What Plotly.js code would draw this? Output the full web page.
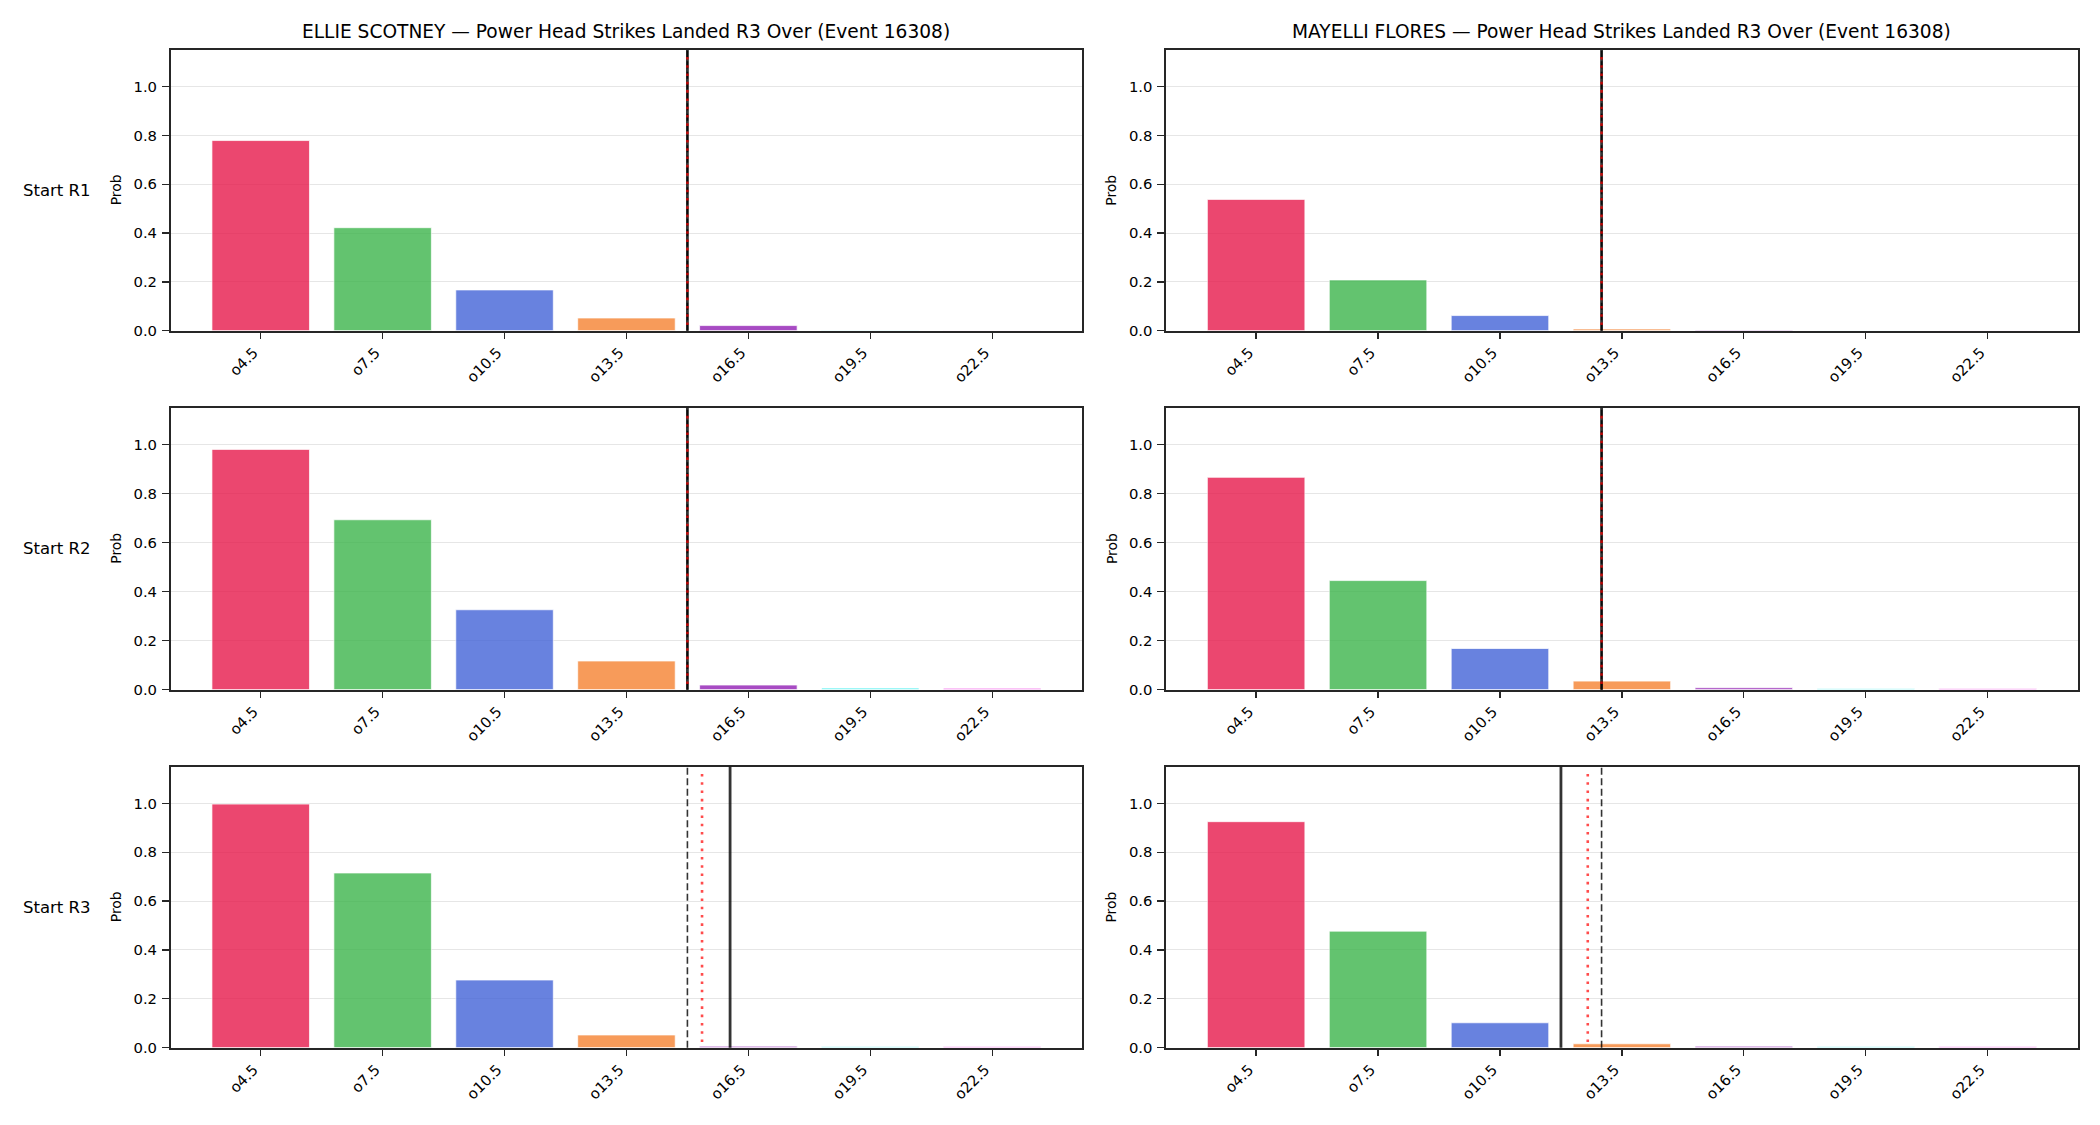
<!DOCTYPE html>
<html>
<head>
<meta charset="utf-8">
<script src="https://cdn.plot.ly/plotly-3.0.1.min.js"></script>
<style>html,body{margin:0;padding:0;background:#fff;}#chart{width:2100px;height:1125px;}</style>
</head>
<body>
<div id="chart"></div>
<script>
// ---- data ----
const thresholds = [4.5, 7.5, 10.5, 13.5, 16.5, 19.5, 22.5];
const tickLabels = thresholds.map(t => 'o' + t);
const barColors = ['#e6194b', '#3cb44b', '#4363d8', '#f58231', '#911eb4', '#46f0f0', '#f032e6'];
const fighters = ['ELLIE SCOTNEY', 'MAYELLI FLORES'];
const rowLabels = ['Start R1', 'Start R2', 'Start R3'];
const yTickVals = [0, 0.2, 0.4, 0.6, 0.8, 1.0];

const ellieR1 = [0.779, 0.422, 0.167, 0.052, 0.021, 0.002, 0.001];
const ellieR2 = [0.980, 0.693, 0.326, 0.117, 0.019, 0.007, 0.006];
const ellieR3 = [0.997, 0.715, 0.277, 0.052, 0.006, 0.005, 0.005];
const mayelliR1 = [0.538, 0.208, 0.062, 0.007, 0.003, 0.001, 0.001];
const mayelliR2 = [0.866, 0.445, 0.168, 0.035, 0.008, 0.005, 0.005];
const mayelliR3 = [0.925, 0.477, 0.102, 0.016, 0.006, 0.005, 0.005];

// vertical reference lines (in stat units), per row R1..R3
const ellieDashed = [15, 15, 15];
const ellieDotted = [15, 15, 15.36];
const ellieSolid = [15, 15, 16.05];
const mayelliDashed = [13, 13, 13];
const mayelliDotted = [13, 13, 12.66];
const mayelliSolid = [13, 13, 12.0];

// ---- layout helpers ----
const W = 2100, H = 1125;
const colPx = [[170.5, 1082.4], [1165.9, 2077.9]];
const rowPx = [[50, 330.7], [407.7, 689.7], [766.7, 1047.7]];
const seriesData = [[ellieR1, ellieR2, ellieR3], [mayelliR1, mayelliR2, mayelliR3]];
const lineData = [
  {dashed: ellieDashed, dotted: ellieDotted, solid: ellieSolid},
  {dashed: mayelliDashed, dotted: mayelliDotted, solid: mayelliSolid}
];

const font = 'DejaVu Sans, sans-serif';
const traces = [];
const layout = {
  width: W, height: H,
  margin: {l: 0, r: 0, t: 0, b: 0},
  paper_bgcolor: '#ffffff',
  plot_bgcolor: '#ffffff',
  showlegend: false,
  bargap: 0,
  font: {family: font, color: '#000000', size: 14},
  shapes: [],
  annotations: []
};

let idx = 0;
for (let r = 0; r < 3; r++) {
  for (let c = 0; c < 2; c++) {
    idx++;
    const xa = idx === 1 ? 'xaxis' : 'xaxis' + idx;
    const ya = idx === 1 ? 'yaxis' : 'yaxis' + idx;
    const xr = idx === 1 ? 'x' : 'x' + idx;
    const yr = idx === 1 ? 'y' : 'y' + idx;
    traces.push({
      type: 'bar',
      x: thresholds,
      y: seriesData[c][r],
      width: 2.4,
      xaxis: xr, yaxis: yr,
      marker: {color: barColors, opacity: 0.8, line: {color: 'rgba(255,255,255,0.9)', width: 0.8}},
      hoverinfo: 'x+y'
    });
    layout[xa] = {
      domain: [colPx[c][0] / W, colPx[c][1] / W],
      anchor: yr,
      range: [2.28, 24.72],
      tickmode: 'array',
      tickvals: thresholds,
      ticktext: tickLabels,
      tickangle: -45,
      ticks: 'outside', ticklen: 6.5, tickwidth: 1.3, tickcolor: '#262626',
      ticklabelshift: -7, ticklabelstandoff: -1,
      tickfont: {family: font, size: 14.8, color: '#000'},
      showline: true, linecolor: '#262626', linewidth: 2, mirror: true,
      showgrid: false, zeroline: false, fixedrange: true
    };
    layout[ya] = {
      domain: [1 - rowPx[r][1] / H, 1 - rowPx[r][0] / H],
      anchor: xr,
      range: [0, 1.15],
      tickmode: 'array',
      tickvals: yTickVals,
      ticktext: yTickVals.map(v => v.toFixed(1)),
      ticks: 'outside', ticklen: 6.5, tickwidth: 1.3, tickcolor: '#262626',
      ticklabelstandoff: 2,
      tickfont: {family: font, size: 14.8, color: '#000'},
      showline: true, linecolor: '#262626', linewidth: 2, mirror: true,
      showgrid: true, gridcolor: '#e6e6e6', gridwidth: 1,
      zeroline: false, fixedrange: true
    };
    const ld = lineData[c];
    layout.shapes.push({type: 'line', xref: xr, yref: yr + ' domain', x0: ld.solid[r], x1: ld.solid[r], y0: 0, y1: 1,
      line: {color: 'rgba(0,0,0,0.8)', width: 2.8}});
    layout.shapes.push({type: 'line', xref: xr, yref: yr + ' domain', x0: ld.dashed[r], x1: ld.dashed[r], y0: 0, y1: 1,
      line: {color: 'rgba(0,0,0,0.8)', width: 1.6, dash: '7px,3.5px'}});
    layout.shapes.push({type: 'line', xref: xr, yref: yr + ' domain', x0: ld.dotted[r], x1: ld.dotted[r], y0: 0.02, y1: 0.98,
      line: {color: 'rgba(255,0,0,0.7)', width: 2.6, dash: '2.6px,5.7px'}});

    const yc = 1 - (rowPx[r][0] + rowPx[r][1]) / 2 / H;
    layout.annotations.push({
      text: 'Prob', xref: 'paper', yref: 'paper',
      x: (colPx[c][0] - 54.5) / W, y: yc, xanchor: 'center', yanchor: 'middle',
      textangle: -90, showarrow: false, font: {family: font, size: 13.9, color: '#000'}
    });
    if (c === 0) {
      layout.annotations.push({
        text: rowLabels[r], xref: 'paper', yref: 'paper',
        x: 56.5 / W, y: yc, xanchor: 'center', yanchor: 'middle',
        showarrow: false, font: {family: font, size: 16.5, color: '#000'}
      });
    }
    if (r === 0) {
      layout.annotations.push({
        text: fighters[c] + ' — Power Head Strikes Landed R3 Over (Event 16308)',
        xref: 'paper', yref: 'paper',
        x: (colPx[c][0] + colPx[c][1]) / 2 / W, y: 1 - 31 / H,
        xanchor: 'center', yanchor: 'middle',
        showarrow: false, font: {family: font, size: 18.6, color: '#000'}
      });
    }
  }
}

Plotly.newPlot('chart', traces, layout, {displayModeBar: false, staticPlot: true});
</script>
</body>
</html>
